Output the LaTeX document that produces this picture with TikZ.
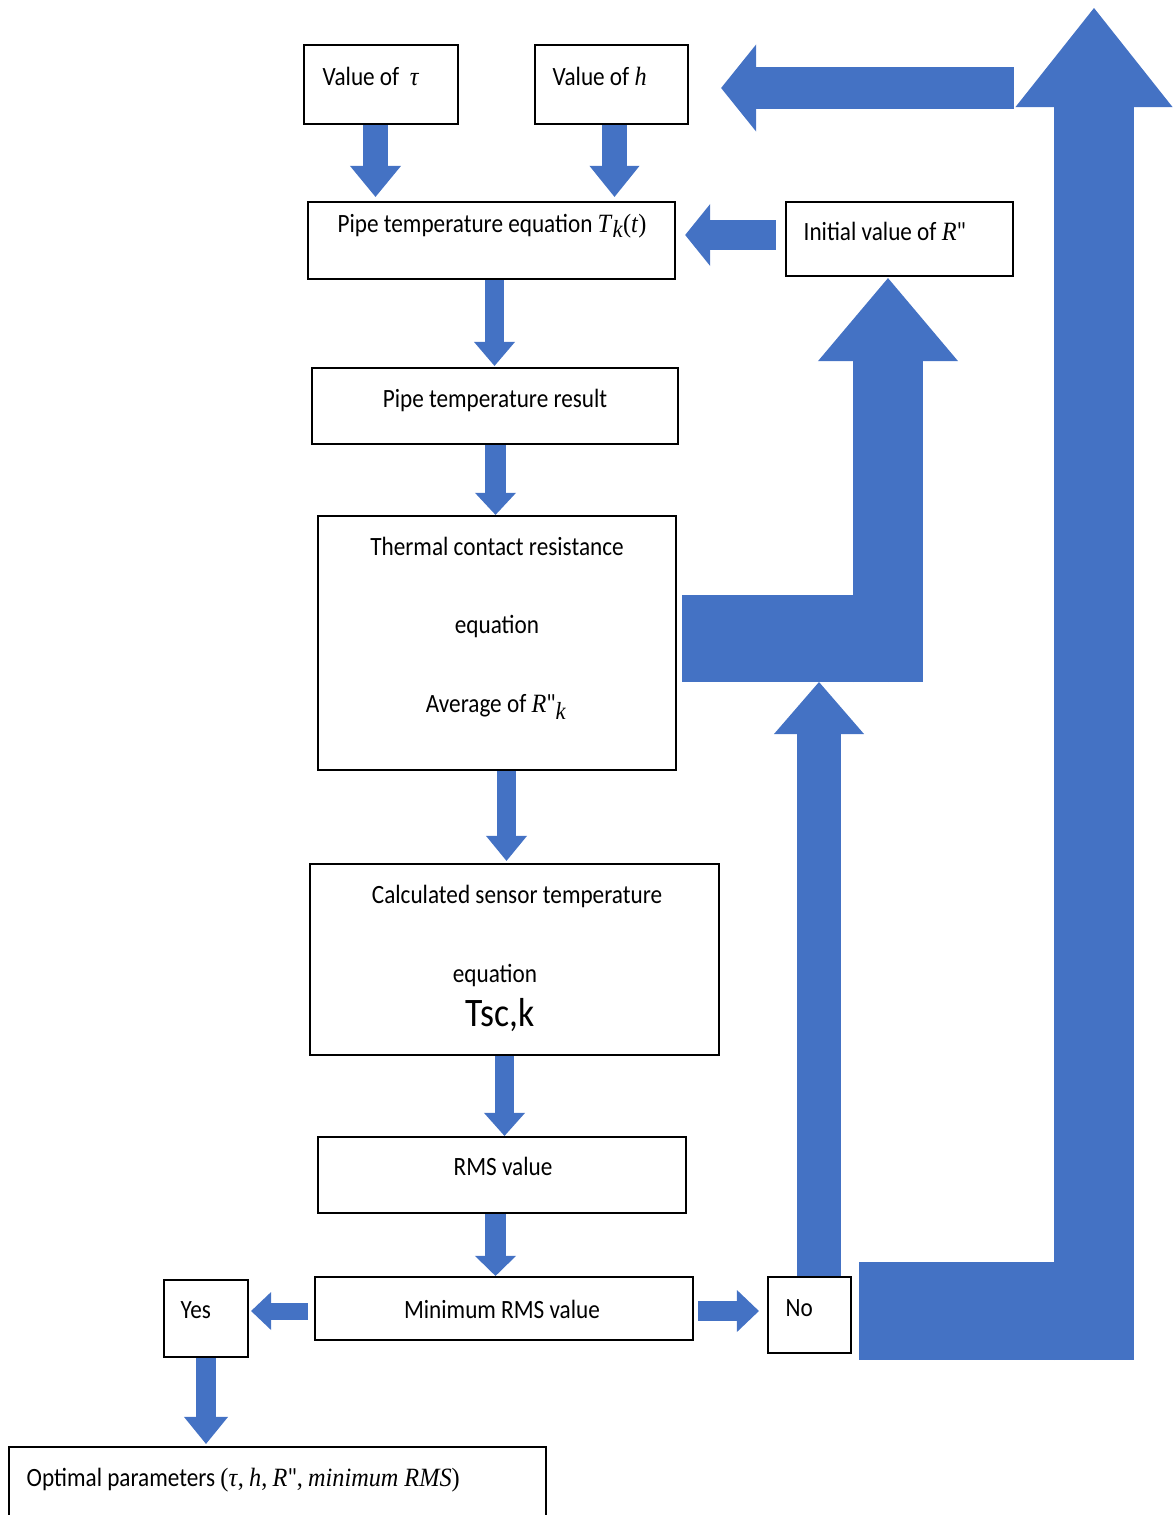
\documentclass[tikz,border=0pt]{standalone}
\usepackage{fontspec}
\setmainfont{Carlito}[FakeStretch=0.88]
\setmonofont{Carlito}[FakeStretch=0.88]
\newfontfamily\mf{Liberation Serif}[FakeStretch=0.92]
\usetikzlibrary{arrows.meta,calc}
\definecolor{blk}{RGB}{68,114,196}
\pgfdeclarelayer{bg}
\pgfsetlayers{bg,main}
\newcommand\dq{{\ttfamily\upshape"}}
\newcommand\mi[1]{{\mf\itshape #1\/}}
\tikzset{
  box/.style={draw=black, line width=0.6pt, fill=white, inner sep=0pt},
  txt/.style={inner sep=0pt, font=\fontsize{7.5}{9}\selectfont},
  bigtxt/.style={inner sep=0pt, font=\fontsize{11.5}{13}\selectfont},
  band/.style={draw=blk, line cap=butt, line join=miter, line width=#1},
  barr/.style n args={3}{draw=blk, fill=blk, line cap=butt, line join=miter, line width=#1,
    -{Triangle[width=#2,length=#3,line width=0pt]}}
}
\begin{document}
\begin{tikzpicture}[x=0.01cm,y=-0.01cm]
\useasboundingbox (0,0) rectangle (1172,1515);
\clip (0,0) rectangle (1172,1515);

% boxes
\node[box,minimum width=15.4mm,minimum height=7.9mm] (tau) at (381,84.5) {};
\node[box,minimum width=15.3mm,minimum height=7.9mm] (hbox) at (611.5,84.5) {};
\node[box,minimum width=36.7mm,minimum height=7.7mm] (pipe) at (491.5,240.5) {};
\node[box,minimum width=22.7mm,minimum height=7.4mm] (initR) at (899.5,239) {};
\node[box,minimum width=36.6mm,minimum height=7.6mm] (result) at (495,406) {};
\node[box,minimum width=35.8mm,minimum height=25.4mm] (thermal) at (497,643) {};
\node[box,minimum width=40.9mm,minimum height=19.1mm] (sensor) at (514.5,959.5) {};
\node[box,minimum width=36.8mm,minimum height=7.6mm] (rms) at (502,1175) {};
\node[box,minimum width=37.8mm,minimum height=6.3mm] (minrms) at (504,1308.5) {};
\node[box,minimum width=8.4mm,minimum height=7.7mm] (yes) at (206,1318.5) {};
\node[box,minimum width=8.3mm,minimum height=7.6mm] (no) at (809.5,1315) {};
\node[box,minimum width=53.7mm,minimum height=8.3mm] (optimal) at (277.5,1488.5) {};

% texts
\node[txt,anchor=base west] (t1) at (322,85) {Value of\ \ \mi{τ}};
\node[txt,anchor=base west] (t2) at (552,85) {Value of \mi{h}};
\node[txt,anchor=base] (t3) at (492,232) {Pipe temperature equation \mi{T}\raisebox{-0.45ex}{\scriptsize\mi{k}}{\mf(}\mi{t}{\mf)}};
\node[txt,anchor=base west] (t4) at (803,240) {Initial value of \mi{R}\dq};
\node[txt,anchor=base] (t5) at (495,407) {Pipe temperature result};
\node[txt,anchor=base] (t6) at (497,555) {Thermal contact resistance};
\node[txt,anchor=base] (t7) at (497,633) {equation};
\node[txt,anchor=base] (t8) at (496,712) {Average of \mi{R}\dq\raisebox{-0.6ex}{\scriptsize\mi{k}}};
\node[txt,anchor=base] (t9) at (517,903) {Calculated sensor temperature};
\node[txt,anchor=base] (t10) at (495,982) {equation};
\node[bigtxt,anchor=base] (t11) at (500,1026) {Tsc,k};
\node[txt,anchor=base] (t12) at (503,1175) {RMS value};
\node[txt,anchor=base] (t13) at (502,1318) {Minimum RMS value};
\node[txt,anchor=base west] (t14) at (180,1318) {Yes};
\node[txt,anchor=base west] (t15) at (785,1316) {No};
\node[txt,anchor=base west] (t16) at (26,1486) {Optimal parameters {\mf(}\mi{τ}{\mf,} \mi{h}{\mf,} \mi{R}\dq{\mf,} \mi{minimum RMS}{\mf)}};

% free coordinates
\coordinate (Lbot) at (888,682);
\coordinate (Mc) at (1094,1360);
\coordinate (Mtip) at (1094,8);
\coordinate (Ostart) at (1014,88);

\begin{pgfonlayer}{bg}
% straight block arrows
\draw[barr={2.5mm}{5.1mm}{3.1mm}] ($(tau.south)+(-5.5,0)$) -- ($(pipe.north)+(-116,-4)$);
\draw[barr={2.5mm}{5.0mm}{3.1mm}] ($(hbox.south)+(3,0)$) -- ($(pipe.north)+(123,-4)$);
\draw[barr={3mm}{6.2mm}{2.5mm}] ($(initR.west)+(-9,-4)$) -- ($(pipe.east)+(9,-5.5)$);
\draw[barr={1.9mm}{4.1mm}{2.4mm}] ($(pipe.south)+(3,0)$) -- ($(result.north)+(-0.5,-1)$);
\draw[barr={2.1mm}{4.1mm}{2.2mm}] ($(result.south)+(0.5,0)$) -- ($(thermal.north)+(-1.5,0)$);
\draw[barr={1.9mm}{4.1mm}{2.5mm}] ($(thermal.south)+(9.5,0)$) -- ($(sensor.north)+(-8,-2)$);
\draw[barr={1.9mm}{4.1mm}{2.3mm}] ($(sensor.south)+(-10,0)$) -- ($(rms.north)+(2.5,0)$);
\draw[barr={2.1mm}{4.1mm}{2.0mm}] ($(rms.south)+(-6.5,0)$) -- ($(minrms.north)+(-8.5,0)$);
\draw[barr={1.7mm}{3.8mm}{2.0mm}] ($(minrms.west)+(-6,2.5)$) -- ($(yes.east)+(2,-7.5)$);
\draw[barr={2.0mm}{4.2mm}{2.2mm}] ($(minrms.east)+(4,2.5)$) -- ($(no.west)+(-8,-4)$);
\draw[barr={2.0mm}{4.4mm}{2.7mm}] (yes.south) -- ($(optimal.north)+(-71.5,-2)$);

% bent arrow: thermal -> initial R
\draw[band=8.7mm] ($(thermal.east)+(5,-4.5)$) -- ($(Lbot)+(35,-43.5)$);
\draw[barr={7mm}{14mm}{8.3mm}] (Lbot) -- ($(initR.south)+(-11.5,1)$);

% No -> up into the bent arrow
\draw[barr={4.4mm}{9mm}{5.2mm}] ($(no.north)+(9.5,0)$) -- ($(Lbot)+(-69,0)$);

% big bent arrow from No up to the top
\draw[band=9.8mm] ($(no.east)+(7,-4)$) -- ($(Mc)+(40,-49)$);
\draw[barr={8mm}{15.7mm}{9.9mm}] (Mc) -- (Mtip);

% arrow into value of h
\draw[barr={4.2mm}{8.7mm}{3.5mm}] (Ostart) -- ($(hbox.east)+(32,3.5)$);
\end{pgfonlayer}
\end{tikzpicture}
\end{document}
